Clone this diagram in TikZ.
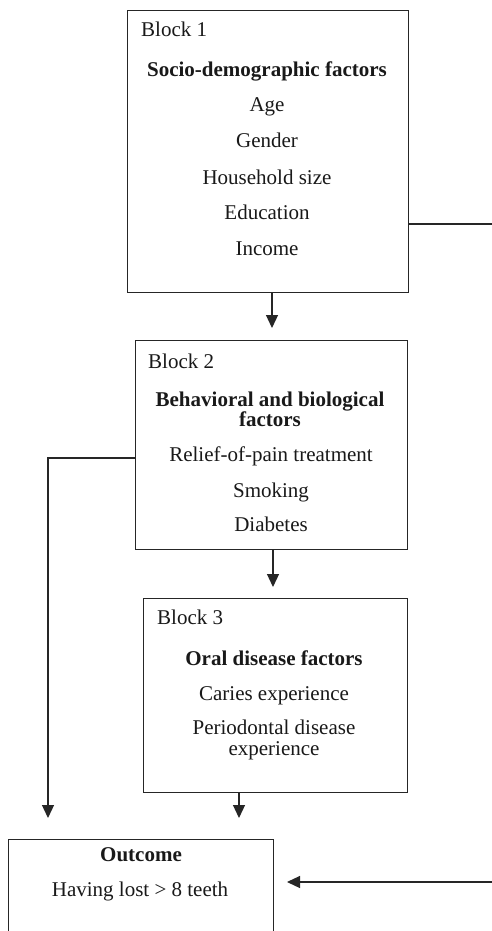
\documentclass[tikz,border=0pt]{standalone}
\usepackage{fontspec}
\setmainfont{Liberation Serif}
\usetikzlibrary{arrows.meta}
\tikzset{
  blockbox/.style={draw=black!85, line width=1.2pt, rectangle, inner sep=0pt, anchor=north west},
  txt/.style={anchor=base, inner sep=0pt, text=black!90, font=\fontsize{21}{25}\selectfont},
  lbl/.style={anchor=base west, inner sep=0pt, text=black!90, font=\fontsize{21}{25}\selectfont},
  conn/.style={draw=black!85, line width=1.2pt},
  arr/.style={conn, -{Triangle[width=12pt,length=13pt]}}
}
\begin{document}
\begin{tikzpicture}[x=1pt,y=-1pt]
\clip (0,0) rectangle (492,931);
\fill[white] (0,0) rectangle (492,931);
% boxes
\node[blockbox, minimum width=281pt, minimum height=282pt] (b1) at (127,10) {};
\node[blockbox, minimum width=272pt, minimum height=209pt] (b2) at (135,340) {};
\node[blockbox, minimum width=264pt, minimum height=194pt] (b3) at (143,598) {};
\node[blockbox, minimum width=265pt, minimum height=130pt] (out) at (8,839) {};
% block 1 texts
\node[lbl] (t1a) at (141,37) {Block 1};
\node[txt] (t1b) at (267,77) {\bfseries Socio-demographic factors};
\node[txt] (t1c) at (267,112) {Age};
\node[txt] (t1d) at (267,147) {Gender};
\node[txt] (t1e) at (267,184) {Household size};
\node[txt] (t1f) at (267,219) {Education};
\node[txt] (t1g) at (267,255) {Income};
% block 2 texts
\node[lbl] (t2a) at (148,368) {Block 2};
\node[txt] (t2b) at (270,406) {\bfseries Behavioral and biological};
\node[txt] (t2c) at (270,426) {\bfseries factors};
\node[txt] (t2d) at (271,461) {Relief-of-pain treatment};
\node[txt] (t2e) at (271,497) {Smoking};
\node[txt] (t2f) at (271,531) {Diabetes};
% block 3 texts
\node[lbl] (t3a) at (157,624) {Block 3};
\node[txt] (t3b) at (274,665) {\bfseries Oral disease factors};
\node[txt] (t3c) at (274,700) {Caries experience};
\node[txt] (t3d) at (274,734) {Periodontal disease};
\node[txt] (t3e) at (274,755) {experience};
% outcome texts
\node[txt] (t4a) at (141,861) {\bfseries Outcome};
\node[txt] (t4b) at (140,896) {Having lost > 8 teeth};
% coordinates
\coordinate (a1) at (272,328);
\coordinate (a2) at (273,587);
\coordinate (a3) at (239,818);
\coordinate (r1) at (492,224);
\coordinate (l1) at (48,458);
\coordinate (l2) at (48,818);
\coordinate (r2) at (492,882);
\coordinate (a4) at (287,882);
% connectors
\draw[arr] (b1.south -| a1) -- (a1);
\draw[arr] (b2.south -| a2) -- (a2);
\draw[arr] (b3.south -| a3) -- (a3);
\draw[conn] (b1.east |- r1) -- (r1);
\draw[arr] (b2.west |- l1) -- (l1) -- (l2);
\draw[arr] (r2) -- (a4);
\end{tikzpicture}
\end{document}
